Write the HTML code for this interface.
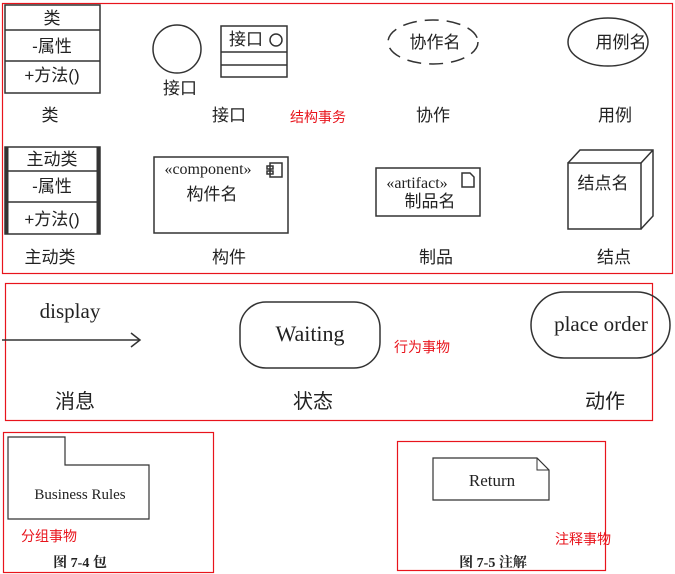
<!DOCTYPE html>
<html><head><meta charset="utf-8"><style>
html,body{margin:0;padding:0;background:#fff;width:675px;height:574px;overflow:hidden}
svg{display:block}
.z{font-family:"Liberation Sans","Noto Sans CJK SC",sans-serif;fill:#222}
.s{font-family:"Liberation Serif","Noto Serif CJK SC",serif;fill:#222}
.r{font-family:"Liberation Sans","Noto Sans CJK SC",sans-serif;fill:#e8141c;font-size:14px}
</style></head><body>
<svg width="675" height="574" viewBox="0 0 675 574" xmlns="http://www.w3.org/2000/svg">
<g fill="none" stroke="#e8141c" stroke-width="1.2">
<rect x="2.5" y="3.5" width="670" height="270"/>
<rect x="5.5" y="283.5" width="647" height="137"/>
<rect x="3.5" y="432.5" width="210" height="140"/>
<rect x="397.5" y="441.5" width="208" height="129"/>
</g>
<g fill="none" stroke="#333" stroke-width="1.5">
<rect x="5" y="5" width="95" height="88"/><line x1="5" y1="30" x2="100" y2="30"/><line x1="5" y1="61" x2="100" y2="61"/>
<circle cx="177" cy="49" r="24"/>
<rect x="221" y="26" width="66" height="51"/><line x1="221" y1="52" x2="287" y2="52"/><line x1="221" y1="65" x2="287" y2="65"/>
<circle cx="276" cy="40" r="6"/>
<ellipse cx="433" cy="42" rx="45" ry="22" stroke-dasharray="14,8"/>
<ellipse cx="608" cy="42" rx="40" ry="24"/>
<rect x="5" y="147" width="95" height="87"/><line x1="5" y1="171" x2="100" y2="171"/><line x1="5" y1="202" x2="100" y2="202"/>
<line x1="7" y1="147" x2="7" y2="234" stroke-width="3"/><line x1="98" y1="147" x2="98" y2="234" stroke-width="3"/>
<rect x="154" y="157" width="134" height="76"/>
<rect x="270" y="163" width="12" height="14"/><rect x="267" y="166" width="6" height="3"/><rect x="267" y="171" width="6" height="3"/>
<rect x="376" y="168" width="104" height="48"/>
<path d="M462 173h8l4 4v10h-12z"/>
<rect x="568" y="163" width="73" height="66"/>
<path d="M568 163l12-13h73v66l-12 13M641 163l12-13"/>
<line x1="2" y1="340" x2="140" y2="340"/><path d="M131 333l9 7-9 7"/>
<rect x="240" y="302" width="140" height="66" rx="26"/>
<rect x="531" y="292" width="139" height="66" rx="33"/>
<path d="M8 465V437h57v28h84v54H8z" stroke-width="1.2"/>
<path d="M433 458h104l12 12v30H433z" stroke-width="1.2"/><path d="M537 458v12h12" stroke-width="1"/>
</g>
<g class="z" font-size="17" text-anchor="middle">
<text x="52" y="24">类</text><text x="52" y="52">-属性</text><text x="52" y="81">+方法()</text>
<text x="50" y="121">类</text>
<text x="180" y="94">接口</text><text x="246" y="45">接口</text>
<text x="229" y="121">接口</text>
<text x="435" y="48">协作名</text><text x="433" y="121">协作</text>
<text x="621" y="48">用例名</text><text x="615" y="121">用例</text>
<text x="52" y="165">主动类</text><text x="52" y="192">-属性</text><text x="52" y="225">+方法()</text>
<text x="50" y="263">主动类</text>
<text x="212" y="200">构件名</text><text x="229" y="263">构件</text>
<text x="430" y="207">制品名</text><text x="436" y="263">制品</text>
<text x="603" y="189">结点名</text><text x="614" y="263">结点</text>
<text x="75" y="408" font-size="20">消息</text><text x="313" y="408" font-size="20">状态</text><text x="605" y="408" font-size="20">动作</text>
</g>
<g class="s" text-anchor="middle">
<text x="208" y="174" font-size="16">«component»</text>
<text x="417" y="188" font-size="16">«artifact»</text>
<text x="70" y="318" font-size="21">display</text>
<text x="310" y="341" font-size="22">Waiting</text>
<text x="601" y="331" font-size="21">place order</text>
<text x="80" y="499" font-size="15">Business Rules</text>
<text x="492" y="486" font-size="17">Return</text>
<text x="80" y="567" font-size="14" font-weight="bold">图 7-4 包</text>
<text x="493" y="567" font-size="14" font-weight="bold">图 7-5 注解</text>
</g>
<text class="r" x="290" y="122">结构事务</text>
<text class="r" x="394" y="352">行为事物</text>
<text class="r" x="21" y="541">分组事物</text>
<text class="r" x="555" y="544">注释事物</text>
</svg>
</body></html>
